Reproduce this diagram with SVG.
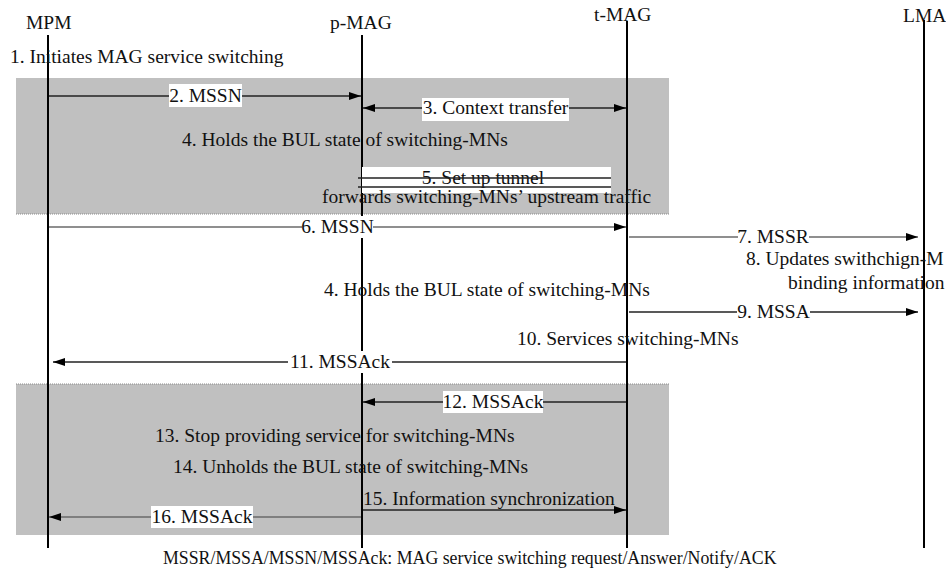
<svg xmlns="http://www.w3.org/2000/svg" width="946" height="569" viewBox="0 0 946 569" font-family="'Liberation Serif', 'Times New Roman', Times, serif">
<style>
text{font-family:'Liberation Serif','Times New Roman',Times,serif;font-size:19.5px;fill:#111}
.life{stroke:#000;stroke-width:2;fill:none}
.msg{stroke:#222;stroke-width:1.3;fill:none}
.gry{stroke:#6a6a6a;stroke-width:1.6;fill:none}
.bg{fill:#fff}
.box{fill:#c0c0c0}
.edge{stroke:#8a8a8a;stroke-width:1;stroke-dasharray:1 1}
.m{text-anchor:middle}
</style>
<defs>
<marker id="ah" viewBox="0 0 12 8" refX="12" refY="4" markerWidth="12" markerHeight="8" markerUnits="userSpaceOnUse" orient="auto-start-reverse">
<path d="M0,0 L12,4 L0,8 z" fill="#000"/>
</marker>
</defs>
<rect width="946" height="569" fill="#fff"/>
<g id="phase1"><rect class="box" x="16" y="78" width="653" height="136"/><line class="edge" x1="16" y1="214" x2="669" y2="214"/></g>
<g id="phase3"><rect class="box" x="16" y="384" width="653" height="151"/><line class="edge" x1="16" y1="384" x2="669" y2="384"/></g>
<g id="MPM"><text x="26" y="29">MPM</text><line class="life" x1="48" y1="35" x2="48" y2="548"/></g>
<g id="pMAG"><text x="330" y="29">p-MAG</text><line class="life" x1="362" y1="35" x2="362" y2="548"/></g>
<g id="tMAG"><text x="594" y="21">t-MAG</text><line class="life" x1="627" y1="21" x2="627" y2="548"/></g>
<g id="LMA"><text x="903" y="22">LMA</text><line class="life" x1="924" y1="20" x2="924" y2="548"/></g>
<g id="notes">
<text x="10" y="63">1. Initiates MAG service switching</text>
<text x="182" y="146">4. Holds the BUL state of switching-MNs</text>
<text x="746" y="265">8. Updates swithchign-M</text>
<text x="788" y="289">binding information</text>
<text x="324" y="296">4. Holds the BUL state of switching-MNs</text>
<text x="517" y="345">10. Services switching-MNs</text>
<text x="155" y="442">13. Stop providing service for switching-MNs</text>
<text x="173" y="473">14. Unholds the BUL state of switching-MNs</text>
<text x="163" y="564" style="font-size:17.8px">MSSR/MSSA/MSSN/MSSAck: MAG service switching request/Answer/Notify/ACK</text>
</g>
<g id="connectors">
<line class="msg" x1="49" y1="96" x2="361" y2="96" marker-end="url(#ah)"/>
<rect class="bg" x="169" y="84" width="73" height="23"/><text class="m" x="205.5" y="102">2. MSSN</text>
<line class="msg" x1="363" y1="108" x2="626" y2="108" marker-start="url(#ah)" marker-end="url(#ah)"/>
<rect class="bg" x="422" y="98" width="147" height="23"/><text class="m" x="495.5" y="114">3. Context transfer</text>
<rect class="bg" x="362" y="167" width="249" height="26"/>
<text class="m" x="483" y="184">5. Set up tunnel</text>
<line class="msg" x1="358" y1="178" x2="611" y2="178"/>
<line class="msg" x1="358" y1="187" x2="611" y2="187"/>
<text x="322" y="203">forwards switching-MNs’ upstream traffic</text>
<line class="gry" x1="49" y1="227" x2="626" y2="227" marker-end="url(#ah)"/>
<rect class="bg" x="302" y="216" width="71" height="22"/><text class="m" x="337.5" y="233">6. MSSN</text>
<line class="gry" x1="629" y1="237" x2="918" y2="237" marker-end="url(#ah)"/>
<rect class="bg" x="738" y="226" width="71" height="22"/><text class="m" x="773" y="243">7. MSSR</text>
<line class="msg" x1="629" y1="312" x2="918" y2="312" marker-end="url(#ah)"/>
<rect class="bg" x="737" y="301" width="73" height="22"/><text class="m" x="773.5" y="318">9. MSSA</text>
<line class="msg" x1="626" y1="362" x2="53" y2="362" marker-end="url(#ah)"/>
<rect class="bg" x="288" y="351" width="104" height="22"/><text class="m" x="340" y="368">11. MSSAck</text>
<line class="msg" x1="626" y1="402" x2="363" y2="402" marker-end="url(#ah)"/>
<rect class="bg" x="443" y="391" width="100" height="22"/><text class="m" x="493" y="408">12. MSSAck</text>
<line class="msg" x1="363" y1="510" x2="626" y2="510" marker-end="url(#ah)"/>
<text x="363" y="505">15. Information synchronization</text>
<line class="gry" x1="361" y1="517" x2="49" y2="517" marker-end="url(#ah)"/>
<rect class="bg" x="151" y="506" width="102" height="22"/><text class="m" x="202" y="523">16. MSSAck</text>
</g>
</svg>
